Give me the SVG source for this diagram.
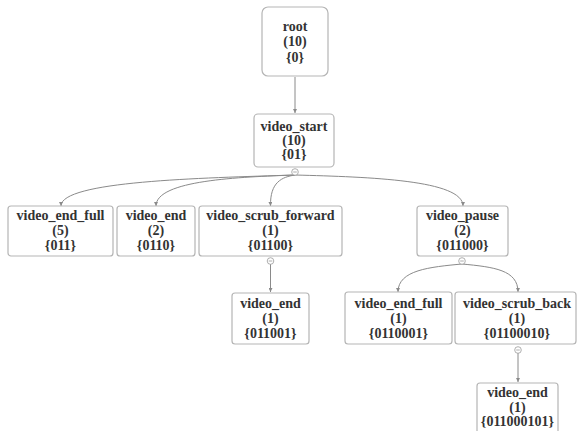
<svg xmlns="http://www.w3.org/2000/svg" width="577" height="431" viewBox="0 0 577 431">
<style>
.box{fill:#fff;stroke:#b5b5b5;stroke-width:1.2}
.t{font-family:"Liberation Serif","DejaVu Serif",serif;font-weight:bold;font-size:14px;fill:#333;text-anchor:middle}
.lk{fill:none;stroke:#8a8a8a;stroke-width:1}
.tg{fill:#fff;stroke:#9a9a9a;stroke-width:0.8}
</style>
<defs>
<marker id="ah" viewBox="0 0 6 6" refX="6" refY="3" markerWidth="4" markerHeight="4" orient="auto">
<path d="M0,0 L6,3 L0,6 z" fill="#8a8a8a"/>
</marker>
<g id="tog"><circle class="tg" r="3.3"/><path d="M-1.8,0 H1.8" stroke="#9a9a9a" stroke-width="0.8"/></g>
</defs>
<rect width="577" height="431" fill="#fff"/>
<g id="connectors">
<path class="lk" d="M295,77 V113" marker-end="url(#ah)"/>
<path class="lk" d="M295,175 C200,178 61,181 61,206" marker-end="url(#ah)"/>
<path class="lk" d="M295,175 C240,177 156,180 156,206" marker-end="url(#ah)"/>
<path class="lk" d="M295,175 C282,177 270,182 270.5,206" marker-end="url(#ah)"/>
<path class="lk" d="M295,175 C370,177 463,180 463,206" marker-end="url(#ah)"/>
<path class="lk" d="M270.5,264 V292" marker-end="url(#ah)"/>
<path class="lk" d="M462,264 C430,267 398,270 398,292" marker-end="url(#ah)"/>
<path class="lk" d="M462,264 C494,267 518,270 518,292" marker-end="url(#ah)"/>
<path class="lk" d="M518,351 V382" marker-end="url(#ah)"/>
</g>
<g id="root">
<rect class="box" x="262" y="7" width="66" height="69" rx="6"/>
<text class="t" x="295" y="31">root</text>
<text class="t" x="295" y="46">(10)</text>
<text class="t" x="295" y="62">{0}</text>
</g>
<g id="video_start">
<rect class="box" x="254" y="114" width="80" height="53" rx="4"/>
<text class="t" x="294" y="131">video_start</text>
<text class="t" x="294" y="145">(10)</text>
<text class="t" x="294" y="159">{01}</text>
<use href="#tog" x="295" y="172"/>
</g>
<g id="video_end_full_1">
<rect class="box" x="8" y="206" width="105" height="50" rx="3"/>
<text class="t" x="60.5" y="220">video_end_full</text>
<text class="t" x="60.5" y="235">(5)</text>
<text class="t" x="60.5" y="250">{011}</text>
</g>
<g id="video_end_1">
<rect class="box" x="117" y="206" width="78" height="50" rx="3"/>
<text class="t" x="156" y="220">video_end</text>
<text class="t" x="156" y="235">(2)</text>
<text class="t" x="156" y="250">{0110}</text>
</g>
<g id="video_scrub_forward">
<rect class="box" x="199" y="206" width="143" height="50" rx="3"/>
<text class="t" x="270.5" y="220">video_scrub_forward</text>
<text class="t" x="270.5" y="235">(1)</text>
<text class="t" x="270.5" y="250">{01100}</text>
<use href="#tog" x="270.5" y="261"/>
</g>
<g id="video_pause">
<rect class="box" x="417" y="206" width="91" height="50" rx="3"/>
<text class="t" x="462.5" y="220">video_pause</text>
<text class="t" x="462.5" y="235">(2)</text>
<text class="t" x="462.5" y="250">{011000}</text>
<use href="#tog" x="462" y="261"/>
</g>
<g id="video_end_2">
<rect class="box" x="232" y="293" width="77" height="51" rx="3"/>
<text class="t" x="270.5" y="308">video_end</text>
<text class="t" x="270.5" y="323">(1)</text>
<text class="t" x="270.5" y="338">{011001}</text>
</g>
<g id="video_end_full_2">
<rect class="box" x="345" y="292" width="107" height="52" rx="3"/>
<text class="t" x="398.5" y="308">video_end_full</text>
<text class="t" x="398.5" y="323">(1)</text>
<text class="t" x="398.5" y="338">{0110001}</text>
</g>
<g id="video_scrub_back">
<rect class="box" x="455" y="292" width="121" height="52" rx="3"/>
<text class="t" x="517" y="308">video_scrub_back</text>
<text class="t" x="517" y="323">(1)</text>
<text class="t" x="517" y="338">{01100010}</text>
<use href="#tog" x="518" y="350"/>
</g>
<g id="video_end_3">
<rect class="box" x="477" y="383" width="81" height="60" rx="3"/>
<text class="t" x="517.5" y="397">video_end</text>
<text class="t" x="517.5" y="412">(1)</text>
<text class="t" x="517.5" y="426">{011000101}</text>
</g>
</svg>
